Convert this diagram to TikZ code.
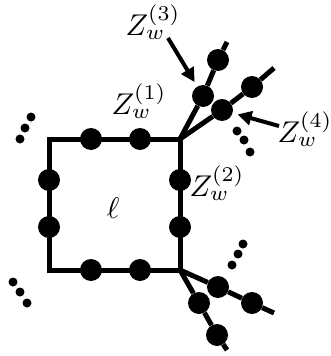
\documentclass[tikz,border=0pt]{standalone}
\usepackage{tikz}
\usetikzlibrary{arrows.meta}
\usepackage{amsmath,amssymb}

\begin{document}
\begin{tikzpicture}[x=1pt,y=-1pt,
        blob/.style={circle,fill=black,inner sep=0pt,minimum size=22pt},
        dotty/.style={circle,fill=black,inner sep=0pt,minimum size=9pt},
        leg/.style={line width=5pt},
        pointer/.style={line width=4pt,shorten >=5pt,-{Triangle[length=14pt,width=14pt]}},
        lab/.style={scale=3,transform shape,inner sep=0pt}]
        \useasboundingbox (0,0) rectangle (331,356);
        % the loop
        \coordinate (tl) at (49,139);
        \coordinate (tr) at (180,139);
        \coordinate (br) at (180,270);
        \coordinate (bl) at (49,270);
        \draw[leg,line join=miter] (tl) -- (tr) -- (br) -- (bl) -- cycle;
        \node[blob] (t1) at (91,139) {};
        \node[blob] (t2) at (140,139) {};
        \node[blob] (l1) at (49,180) {};
        \node[blob] (l2) at (49,227) {};
        \node[blob] (r1) at (180,180) {};
        \node[blob] (r2) at (180,227) {};
        \node[blob] (b1) at (91,270) {};
        \node[blob] (b2) at (140,270) {};
        \node[lab] (ell) at (113,208) {$\ell$};
        % legs at the top corner
        \node[blob] (ua1) at (203,96) {};
        \node[blob] (ua2) at (218,60) {};
        \coordinate (uaend) at (227,42);
        \draw[leg] (tr) -- (ua1) -- (ua2) -- (uaend);
        \node[blob] (ub1) at (222,110) {};
        \node[blob] (ub2) at (252,87) {};
        \coordinate (ubend) at (274,68);
        \draw[leg] (tr) -- (ub1) -- (ub2) -- (ubend);
        % legs at the bottom corner
        \node[blob] (lc1) at (218,287) {};
        \node[blob] (lc2) at (252,303) {};
        \coordinate (lcend) at (274,313);
        \draw[leg] (br) -- (lc1) -- (lc2) -- (lcend);
        \node[blob] (ld1) at (199,303) {};
        \node[blob] (ld2) at (217,335) {};
        \coordinate (ldend) at (227,350);
        \draw[leg] (br) -- (ld1) -- (ld2) -- (ldend);
        % dots
        \node[dotty] (da1) at (20,139) {};
        \node[dotty] (da2) at (25,128) {};
        \node[dotty] (da3) at (31,117) {};
        \node[dotty] (db1) at (13,282) {};
        \node[dotty] (db2) at (20,292) {};
        \node[dotty] (db3) at (27,303) {};
        \node[dotty] (dc1) at (237,131) {};
        \node[dotty] (dc2) at (244,140) {};
        \node[dotty] (dc3) at (250,152) {};
        \node[dotty] (dd1) at (232,265) {};
        \node[dotty] (dd2) at (238,254) {};
        \node[dotty] (dd3) at (243,244) {};
        % labels
        \node[lab] (z1) at (139,101) {$Z_w^{(1)}$};
        \node[lab] (z2) at (217,183) {$Z_w^{(2)}$};
        \node[lab] (z3) at (153,22) {$Z_w^{(3)}$};
        \node[lab] (z4) at (305,129) {$Z_w^{(4)}$};
        \coordinate (z3tail) at (168,38);
        \coordinate (z4tail) at (279,126);
        \draw[pointer] (z3tail) -- (ua1);
        \draw[pointer] (z4tail) -- (ub1);
    \end{tikzpicture}
\end{document}
